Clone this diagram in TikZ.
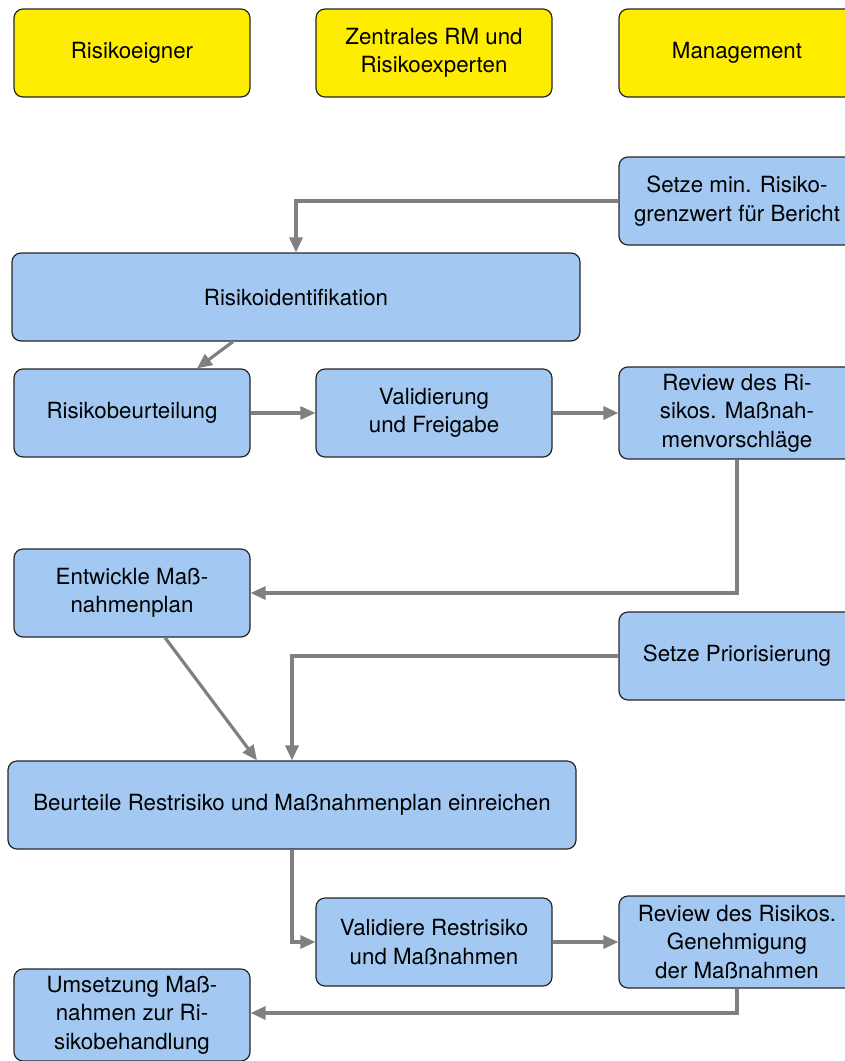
\documentclass[tikz,border=0pt]{standalone}
\usepackage{fontspec}
\setmainfont{TeX Gyre Heros}
\usetikzlibrary{arrows.meta}
\definecolor{hdrfill}{RGB}{255,237,0}
\definecolor{stepfill}{RGB}{163,201,242}
\definecolor{flowgray}{RGB}{128,128,128}
\begin{document}
\begin{tikzpicture}[x=1pt,y=-1pt,
  box/.style={draw=black!85,line width=1.2pt,rounded corners=9pt,
    minimum width=236pt,minimum height=88pt,inner sep=2pt,align=center,
    font=\fontsize{22.3}{28.5}\selectfont},
  hdr/.style={box,fill=hdrfill},
  stepbox/.style={box,fill=stepfill},
  tall/.style={minimum height=92pt},
  wide/.style={minimum width=568pt},
  flow/.style={draw=flowgray,line width=3.2pt,
    -{Triangle[length=15pt,width=13pt]}}]
\useasboundingbox (0,0) rectangle (845,1061);
\clip (0,0) rectangle (845,1061);

% lane headers
\node[hdr] (owner) at (132,53) {Risikoeigner};
\node[hdr] (central) at (434,53) {Zentrales RM und\\Risikoexperten};
\node[hdr] (mgmt) at (737,53) {Management};

% process steps
\node[stepbox] (limit) at (737,201) {Setze min. Risiko-\\grenzwert für Bericht};
\node[stepbox,wide] (ident) at (296,297) {Risikoidentifikation};
\node[stepbox] (assess) at (132,413) {Risikobeurteilung};
\node[stepbox] (valid) at (434,413) {Validierung\\und Freigabe};
\node[stepbox,tall] (review) at (737,413) {Review des Ri-\\sikos. Maßnah-\\menvorschläge};
\node[stepbox] (plan) at (132,593) {Entwickle Maß-\\nahmenplan};
\node[stepbox] (prio) at (737,656) {Setze Priorisierung};
\node[stepbox,wide] (resid) at (292,805) {Beurteile Restrisiko und Maßnahmenplan einreichen};
\node[stepbox] (validres) at (434,942) {Validiere Restrisiko\\und Maßnahmen};
\node[stepbox,tall] (approve) at (737,942) {Review des Risikos.\\Genehmigung\\der Maßnahmen};
\node[stepbox,tall] (impl) at (132,1015) {Umsetzung Maß-\\nahmen zur Ri-\\sikobehandlung};

% connectors
\draw[flow] (limit.west) -| (ident.north);
\draw[flow] ([xshift=-63pt]ident.south) -- ([xshift=65pt]assess.north);
\draw[flow] (assess.east) -- (valid.west);
\draw[flow] (valid.east) -- (review.west);
\draw[flow] (review.south) |- (plan.east);
\draw[flow] ([xshift=33pt]plan.south) -- ([xshift=-35pt]resid.north);
\draw[flow] (prio.west) -| (resid.north);
\draw[flow] (resid.south) |- (validres.west);
\draw[flow] (validres.east) -- (approve.west);
\draw[flow] (approve.south) |- ([yshift=2pt]impl.east);
\end{tikzpicture}
\end{document}
